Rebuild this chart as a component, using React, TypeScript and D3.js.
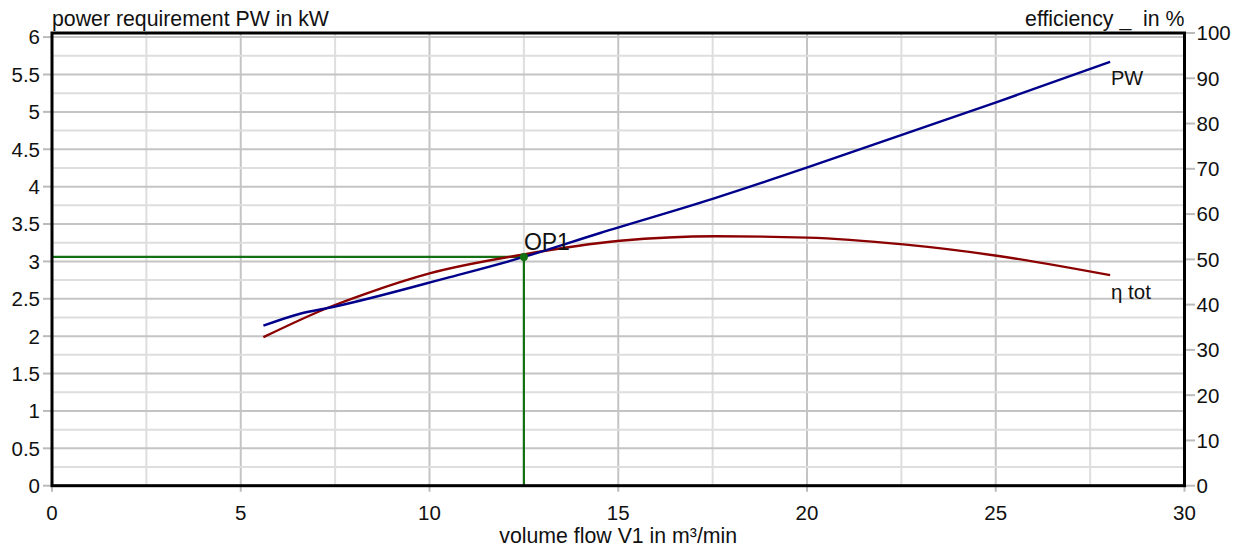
import React from "react";
import * as d3 from "d3";

const W = 1244;
const H = 548;

const xTicks = [0, 5, 10, 15, 20, 25, 30];
const yLeftTicks = [0, 0.5, 1, 1.5, 2, 2.5, 3, 3.5, 4, 4.5, 5, 5.5, 6];
const yRightTicks = [0, 10, 20, 30, 40, 50, 60, 70, 80, 90, 100];

const pwFlow = [5.6, 6.57, 7.44, 10.54, 12.5, 14.52, 17.52, 20.03, 22.55, 25.03, 28.03];
const pwValues = [2.14, 2.3, 2.39, 2.79, 3.06, 3.38, 3.84, 4.26, 4.7, 5.13, 5.67];

const etaFlow = [5.6, 7.28, 8.34, 10.0, 12.5, 15.05, 17.6, 20.0, 22.55, 25.03, 28.03];
const etaValues = [32.8, 39.2, 42.5, 46.9, 51.1, 54.1, 55.1, 54.8, 53.3, 50.8, 46.5];

const opFlow = 12.5;
const opPower = 3.06;

const FONT = "'Liberation Sans', Arial, sans-serif";

export default function App() {
  const left = 52;
  const right = 1184.5;
  const top = 33;
  const bottom = 485.7;

  const x = d3.scaleLinear().domain([0, 30]).range([left, right]);
  const yL = d3.scaleLinear().domain([0, 6.055]).range([bottom, top]);
  const yR = d3.scaleLinear().domain([0, 100]).range([bottom, top]);

  const pwLine = d3
    .line<number>()
    .x((_, i) => x(pwFlow[i]))
    .y((d) => yL(d))
    .curve(d3.curveMonotoneX);
  const etaLine = d3
    .line<number>()
    .x((_, i) => x(etaFlow[i]))
    .y((d) => yR(d))
    .curve(d3.curveMonotoneX);

  const xMinor = d3.range(0, 30.01, 2.5);
  const yMinor = d3.range(0, 6.01, 0.25);

  return (
    <svg
      width={W}
      height={H}
      style={{ position: "absolute", left: 0, top: 0, background: "#fff", fontFamily: FONT }}
    >
      <rect x={0} y={0} width={W} height={H} fill="#fff" />
      {/* grid */}
      {xMinor.map((v) => {
        const major = Math.abs(v % 5) < 1e-6;
        return (
          <line
            key={"gx" + v}
            x1={x(v)}
            x2={x(v)}
            y1={top}
            y2={bottom}
            stroke={major ? "#c4c4c4" : "#dedede"}
            strokeWidth={2}
          />
        );
      })}
      {yMinor.map((v) => {
        const major = Math.abs((v * 2) % 1) < 1e-6;
        return (
          <line
            key={"gy" + v}
            x1={left}
            x2={right}
            y1={yL(v)}
            y2={yL(v)}
            stroke={major ? "#c4c4c4" : "#dedede"}
            strokeWidth={2}
          />
        );
      })}

      {/* operating point lines */}
      <line x1={left} x2={x(opFlow)} y1={yL(opPower)} y2={yL(opPower)} stroke="#137013" strokeWidth={2.2} />
      <line x1={x(opFlow)} x2={x(opFlow)} y1={yL(opPower)} y2={bottom} stroke="#137013" strokeWidth={2.2} />

      {/* curves */}
      <path d={etaLine(etaValues) || ""} fill="none" stroke="#8b0000" strokeWidth={2.4} />
      <path d={pwLine(pwValues) || ""} fill="none" stroke="#00008b" strokeWidth={2.4} />

      <circle cx={x(opFlow)} cy={yL(opPower)} r={4} fill="#137013" />
      <text x={x(opFlow)} y={250} fontSize={23} fill="#111">OP1</text>

      <text x={1111} y={85} fontSize={20} fill="#111">PW</text>
      <text x={1111} y={299} fontSize={20.5} fill="#111">η tot</text>

      {/* left ticks */}
      {yLeftTicks.map((v) => (
        <g key={"yl" + v}>
          <line x1={43} x2={left} y1={yL(v)} y2={yL(v)} stroke="#bbb" strokeWidth={2} />
          <text x={40} y={yL(v)} dy="0.36em" textAnchor="end" fontSize={20.5} fill="#111">
            {String(v)}
          </text>
        </g>
      ))}
      {/* right ticks */}
      {yRightTicks.map((v) => (
        <g key={"yr" + v}>
          <line x1={right} x2={1195} y1={yR(v)} y2={yR(v)} stroke="#bbb" strokeWidth={2} />
          <text x={1196.5} y={yR(v)} dy="0.36em" textAnchor="start" fontSize={20.5} fill="#111">
            {String(v)}
          </text>
        </g>
      ))}
      {/* bottom ticks */}
      {xTicks.map((v) => (
        <g key={"xt" + v}>
          <line x1={x(v)} x2={x(v)} y1={bottom} y2={bottom + 6} stroke="#bbb" strokeWidth={2} />
          <text x={x(v)} y={520} textAnchor="middle" fontSize={20.5} fill="#111">
            {String(v)}
          </text>
        </g>
      ))}

      {/* frame */}
      <rect
        x={left}
        y={top}
        width={right - left}
        height={bottom - top}
        fill="none"
        stroke="#000"
        strokeWidth={3}
      />

      {/* titles */}
      <text x={52} y={26} fontSize={21.3} fill="#111">power requirement PW in kW</text>
      <text x={right} y={26} fontSize={21.3} fill="#111" textAnchor="end" style={{ whiteSpace: "pre" }}>
        {"efficiency _  in %"}
      </text>
      <text x={x(15)} y={543} fontSize={21.3} fill="#111" textAnchor="middle">volume flow V1 in m³/min</text>
    </svg>
  );
}
